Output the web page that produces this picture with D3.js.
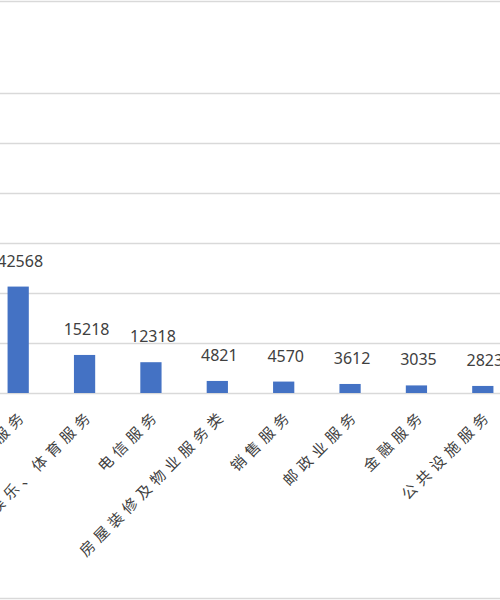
<!DOCTYPE html>
<html><head><meta charset="utf-8">
<script src="https://cdn.jsdelivr.net/npm/d3@7"></script>
<style>body{margin:0;background:#fff}</style></head>
<body><svg id="c" width="500" height="600"></svg>
<script>
const categories = ["旅游服务","文化、娱乐、体育服务","电信服务","房屋装修及物业服务类","销售服务","邮政业服务","金融服务","公共设施服务"];
const values = [42568,15218,12318,4821,4570,3612,3035,2823];
const gridTicks = [0,20000,40000,60000,80000,100000,120000];

const svg = d3.select("#c");
const x = d3.scaleBand().domain(categories).range([-15,516]).paddingInner(0.68).paddingOuter(0.34);
const y = d3.scaleLinear().domain([0,20000]).range([393,343]);

svg.append("line").attr("x1",0).attr("x2",500).attr("y1",1.5).attr("y2",1.5).attr("stroke","#d9d9d9").attr("stroke-width",1.5);
svg.append("line").attr("x1",0).attr("x2",500).attr("y1",598.5).attr("y2",598.5).attr("stroke","#d9d9d9").attr("stroke-width",1.5);

svg.append("g").selectAll("line").data(gridTicks).join("line")
  .attr("x1",0).attr("x2",500).attr("y1",d=>y(d)+0.5).attr("y2",d=>y(d)+0.5)
  .attr("stroke","#d9d9d9").attr("stroke-width",1.3);

svg.append("g").selectAll("rect").data(values).join("rect")
  .attr("x",(d,i)=>x(categories[i])).attr("width",x.bandwidth())
  .attr("y",d=>y(d)).attr("height",d=>y(0)-y(d)).attr("fill","#4472c4");

svg.append("g").selectAll("text").data(values).join("text")
  .attr("x",(d,i)=>x(categories[i])+x.bandwidth()/2+2).attr("y",d=>y(d)-20)
  .attr("text-anchor","middle").attr("font-family","'Noto Sans',sans-serif")
  .attr("font-size",16).attr("fill","#404040").text(d=>d);

svg.append("g").selectAll("text").data(categories).join("text")
  .attr("transform",(d)=>`translate(${x(d)+x.bandwidth()/2+10},416) rotate(-45)`)
  .attr("text-anchor","end").attr("font-family","'Noto Sans CJK SC',sans-serif")
  .attr("font-size",15).attr("letter-spacing",5).attr("fill","#404040").text(d=>d);
</script></body></html>
